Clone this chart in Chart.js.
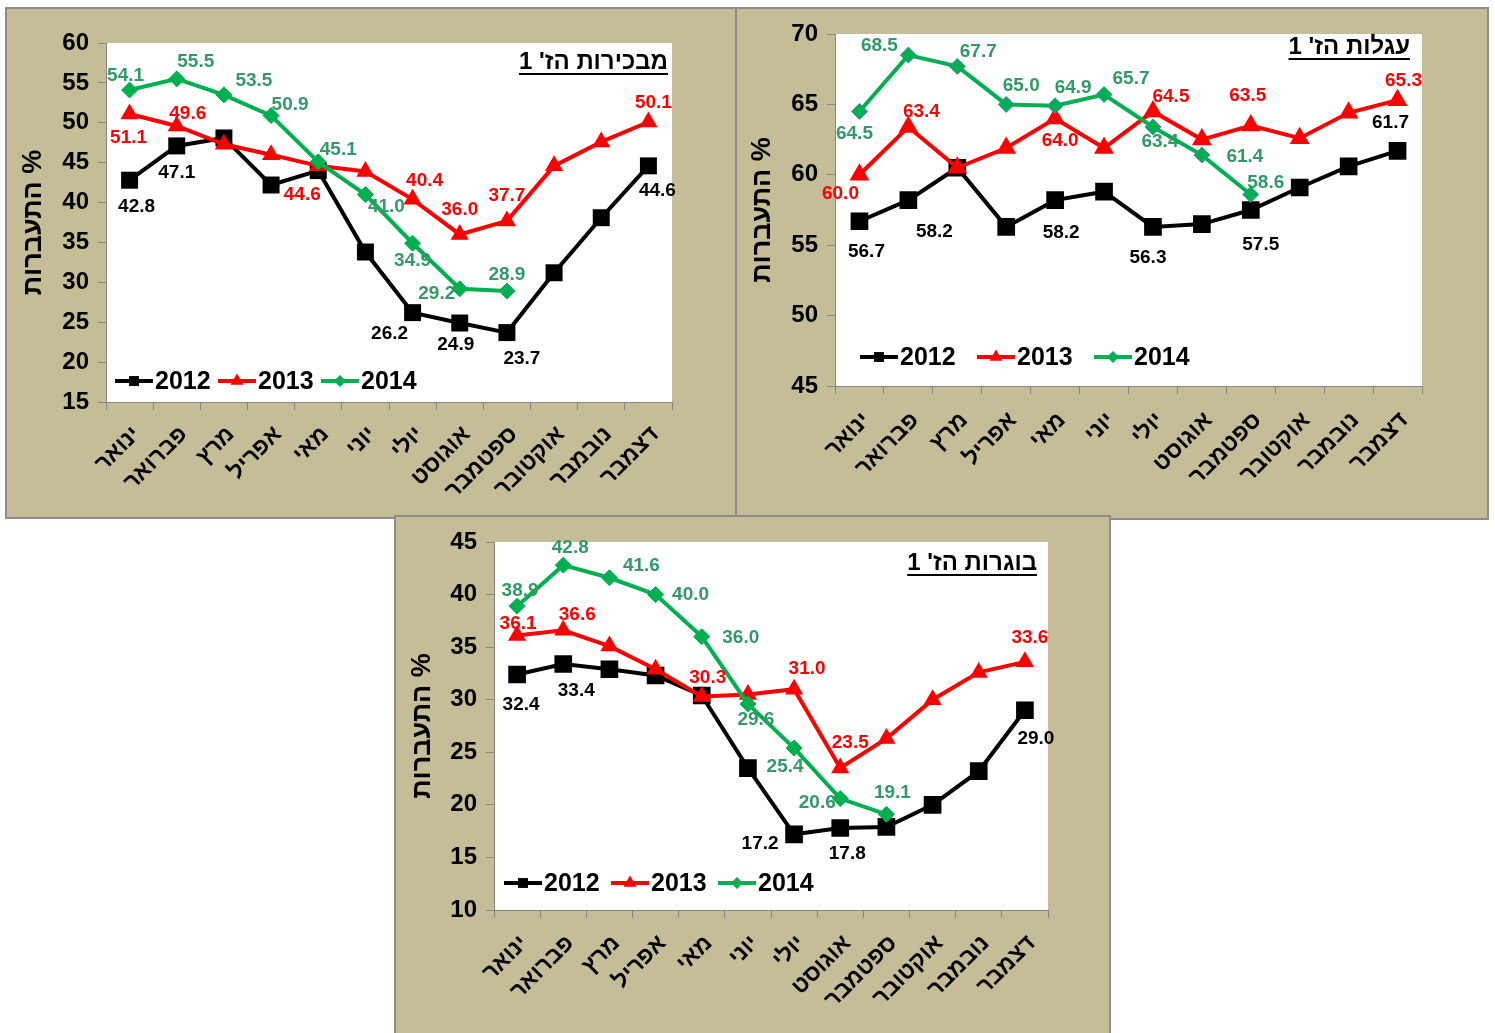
<!DOCTYPE html>
<html lang="he">
<head>
<meta charset="utf-8">
<script src="https://cdn.jsdelivr.net/npm/chart.js@4.4.0/dist/chart.umd.min.js"></script>
<style>
    html, body { margin: 0; padding: 0; background: #fff; width: 1495px; height: 1033px; overflow: hidden; }
    .panel { position: absolute; background: #C4BD97; border: 2px solid #8C8C8C; }
    .panel canvas { display: block; }
    #p1 { left: 5px; top: 7px; z-index: 1; }
    #p2 { left: 734px; top: 7px; }
    #p3 { left: 394px; top: 515px; z-index: 2; }
</style>
</head>
<body>
<div class="panel" id="p1"><canvas id="c1" width="728" height="508"></canvas></div>
<div class="panel" id="p2"><canvas id="c2" width="751" height="509"></canvas></div>
<div class="panel" id="p3"><canvas id="c3" width="713" height="526"></canvas></div>
<script>
// months, left to right
const months = ['ינואר', 'פברואר', 'מרץ', 'אפריל', 'מאי', 'יוני', 'יולי', 'אוגוסט', 'ספטמבר', 'אוקטובר', 'נובמבר', 'דצמבר'];
const years = ['2012', '2013', '2014'];

// מבכירות הז' 1
const primi2012 = [42.8, 47.1, 48.1, 42.2, 44.0, 33.8, 26.2, 24.9, 23.7, 31.2, 38.1, 44.6];
const primi2013 = [51.1, 49.6, 47.3, 46.0, 44.6, 43.9, 40.4, 36.0, 37.7, 44.6, 47.6, 50.1];
const primi2014 = [54.1, 55.5, 53.5, 50.9, 45.1, 41.0, 34.9, 29.2, 28.9, null, null, null];

// עגלות הז' 1
const heifer2012 = [56.7, 58.2, 60.5, 56.3, 58.2, 58.8, 56.3, 56.5, 57.5, 59.1, 60.6, 61.7];
const heifer2013 = [60.0, 63.4, 60.5, 61.9, 64.0, 61.9, 64.5, 62.5, 63.5, 62.6, 64.4, 65.3];
const heifer2014 = [64.5, 68.5, 67.7, 65.0, 64.9, 65.7, 63.4, 61.4, 58.6, null, null, null];

// בוגרות הז' 1
const cows2012 = [32.4, 33.4, 32.9, 32.3, 30.4, 23.5, 17.2, 17.8, 17.9, 20.0, 23.2, 29.0];
const cows2013 = [36.1, 36.6, 35.1, 32.9, 30.3, 30.5, 31.0, 23.5, 26.3, 30.0, 32.6, 33.6];
const cows2014 = [38.9, 42.8, 41.6, 40.0, 36.0, 29.6, 25.4, 20.6, 19.1, null, null, null];

const titles = ["מבכירות הז' 1", "עגלות הז' 1", "בוגרות הז' 1"];
const yTitle = 'התעברות %';

const lineColors = ['#000000', '#FF0000', '#00B050'];
const labelColors = ['#000000', '#FF0000', '#339966'];
const markers = ['rect', 'triangle', 'rectRot'];

// which points carry a value label, and where: [index, dx, dy] from the point
const primiLabels = [
    [[0, 7, 27], [1, 0, 27], [6, -23, 21], [7, -4, 22], [8, 15, 26], [11, 9, 25]],
    [[0, -1, 24], [1, 11, -12], [4, -16, 29], [6, 12, -19], [7, 0, -25], [8, 0, -25], [11, 5, -19]],
    [[0, -4, -14], [1, 19, -17], [2, 30, -14], [3, 19, -11], [4, 20, -12], [5, 21, 12], [6, 0, 18], [7, -23, 5], [8, 0, -16]]
];
const heiferLabels = [
    [[0, 7, 31], [1, 26, 32], [4, 6, 33], [6, -5, 31], [8, 10, 35], [11, -7, -28]],
    [[0, -19, 19], [1, 13, -15], [4, 5, 22], [6, 18, -15], [8, -3, -30], [11, 6, -19]],
    [[0, -5, 22], [1, -29, -9], [2, 21, -15], [3, 15, -19], [4, 18, -18], [5, 27, -16], [6, 7, 15], [7, 43, 2], [8, 15, -12]]
];
const cowsLabels = [
    [[0, 4, 30], [1, 13, 27], [6, -34, 9], [7, 7, 26], [11, 11, 29]],
    [[0, 1, -12], [1, 14, -16], [4, 6, -19], [6, 13, -20], [7, 10, -25], [11, 5, -24]],
    [[0, 3, -15], [1, 7, -17], [2, 32, -12], [3, 35, 0], [4, 39, 1], [5, 8, 16], [6, -9, 19], [7, -23, 4], [8, 6, -22]]
];

const FONT = 'Arial, "Liberation Sans", sans-serif';
const AXIS_GREY = '#868686';

function makeChart(canvasId, cfg) {
    const ctx = document.getElementById(canvasId).getContext('2d');

    const datasets = cfg.series.map((values, i) => ({
        label: years[i],
        data: values,
        borderColor: lineColors[i],
        backgroundColor: lineColors[i],
        borderWidth: 4,
        pointStyle: markers[i],
        pointRadius: cfg.radius[i],
        pointBorderWidth: i === 2 ? 1 : 0,
        pointBorderColor: i === 2 ? cfg.diamondBorder : lineColors[i],
        pointBackgroundColor: lineColors[i],
        tension: 0,
        spanGaps: false,
        order: 3 - i
    }));

    // white plot area
    const plotBackground = {
        id: 'plotBackground',
        beforeDraw(chart) {
            const a = chart.chartArea;
            chart.ctx.save();
            chart.ctx.fillStyle = '#ffffff';
            chart.ctx.fillRect(a.left, a.top, a.right - a.left, a.bottom - a.top);
            chart.ctx.restore();
        }
    };

    // value labels next to the points
    const valueLabels = {
        id: 'valueLabels',
        afterDatasetsDraw(chart) {
            const c = chart.ctx;
            c.save();
            c.font = 'bold 19px ' + FONT;
            c.textAlign = 'center';
            c.textBaseline = 'middle';
            cfg.labels.forEach((spec, di) => {
                const meta = chart.getDatasetMeta(di);
                c.fillStyle = labelColors[di];
                spec.forEach(([idx, dx, dy]) => {
                    const pt = meta.data[idx];
                    c.fillText(cfg.series[di][idx].toFixed(1), pt.x + dx, pt.y + dy);
                });
            });
            c.restore();
        }
    };

    // underlined title and in-plot legend
    const overlay = {
        id: 'overlay',
        afterDraw(chart) {
            const c = chart.ctx;
            const a = chart.chartArea;
            c.save();
            c.font = 'bold 24px ' + FONT;
            c.direction = 'rtl';
            c.textAlign = 'right';
            c.textBaseline = 'middle';
            c.fillStyle = '#000';
            const tx = a.right - cfg.titleInset;
            const ty = a.top + cfg.titleDy;
            c.fillText(cfg.title, tx, ty);
            const w = c.measureText(cfg.title).width;
            c.fillRect(tx - w, ty + 11, w, 2);

            c.direction = 'ltr';
            c.textAlign = 'left';
            c.font = 'bold 25px ' + FONT;
            const ly = a.bottom - cfg.legendDy;
            years.forEach((yr, i) => {
                const x0 = a.left + cfg.legendX + i * cfg.legendPitch;
                c.strokeStyle = lineColors[i];
                c.lineWidth = 4;
                c.beginPath();
                c.moveTo(x0, ly);
                c.lineTo(x0 + 38, ly);
                c.stroke();
                c.fillStyle = lineColors[i];
                Chart.helpers.drawPoint(c, {
                    pointStyle: markers[i],
                    radius: [7, 7.5, 6][i],
                    borderWidth: 0,
                    rotation: 0
                }, x0 + 19, ly);
                c.fillStyle = '#000';
                c.fillText(yr, x0 + 40, ly + 1);
            });
            c.restore();
        }
    };

    return new Chart(ctx, {
        type: 'line',
        data: { labels: months, datasets },
        plugins: [plotBackground, valueLabels, overlay],
        options: {
            responsive: false,
            animation: false,
            events: [],
            layout: { padding: { top: cfg.padTop, right: cfg.padRight, left: 0, bottom: 0 } },
            plugins: {
                legend: { display: false },
                tooltip: { enabled: false },
                title: { display: false }
            },
            scales: {
                x: {
                    offset: true,
                    grid: { drawOnChartArea: false, drawTicks: true, tickLength: 8, color: AXIS_GREY, offset: true },
                    border: { color: AXIS_GREY, width: 1 },
                    ticks: {
                        color: '#000',
                        font: { family: FONT, size: 23, weight: 'bold' },
                        minRotation: 45,
                        maxRotation: 45,
                        autoSkip: false,
                        padding: cfg.xPad,
                        labelOffset: 7
                    },
                    afterFit(scale) { scale.height = cfg.xHeight; }
                },
                y: {
                    min: cfg.yMin,
                    max: cfg.yMax,
                    grid: { drawOnChartArea: false, drawTicks: true, tickLength: 8, color: AXIS_GREY },
                    border: { color: AXIS_GREY, width: 1 },
                    ticks: {
                        stepSize: 5,
                        color: '#000',
                        font: { family: FONT, size: 24, weight: 'bold' },
                        padding: 9
                    },
                    title: {
                        display: true,
                        text: yTitle,
                        color: '#000',
                        font: { family: FONT, size: 27, weight: 'bold' },
                        padding: { top: 10, bottom: 0 }
                    },
                    afterFit(scale) { scale.width = cfg.yWidth; }
                }
            }
        }
    });
}

makeChart('c1', {
    series: [primi2012, primi2013, primi2014],
    labels: primiLabels,
    title: titles[0],
    yMin: 15, yMax: 60,
    radius: [12, 10.5, 8],
    diamondBorder: '#00B050',
    padTop: 34, padRight: 63, yWidth: 99, xHeight: 115, xPad: 11,
    titleInset: 4, titleDy: 19,
    legendX: 9, legendDy: 21, legendPitch: 103
});

makeChart('c2', {
    series: [heifer2012, heifer2013, heifer2014],
    labels: heiferLabels,
    title: titles[1],
    yMin: 45, yMax: 70,
    radius: [12.5, 11.5, 8],
    diamondBorder: '#4F81BD',
    padTop: 25, padRight: 65, yWidth: 99, xHeight: 132, xPad: 13,
    titleInset: 12, titleDy: 13,
    legendX: 25, legendDy: 29, legendPitch: 117
});

makeChart('c3', {
    series: [cows2012, cows2013, cows2014],
    labels: cowsLabels,
    title: titles[2],
    yMin: 10, yMax: 45,
    radius: [12.5, 10.5, 8],
    diamondBorder: '#00B050',
    padTop: 25, padRight: 61, yWidth: 98, xHeight: 133, xPad: 12,
    titleInset: 11, titleDy: 21,
    legendX: 10, legendDy: 27, legendPitch: 107
});
</script>
</body>
</html>
